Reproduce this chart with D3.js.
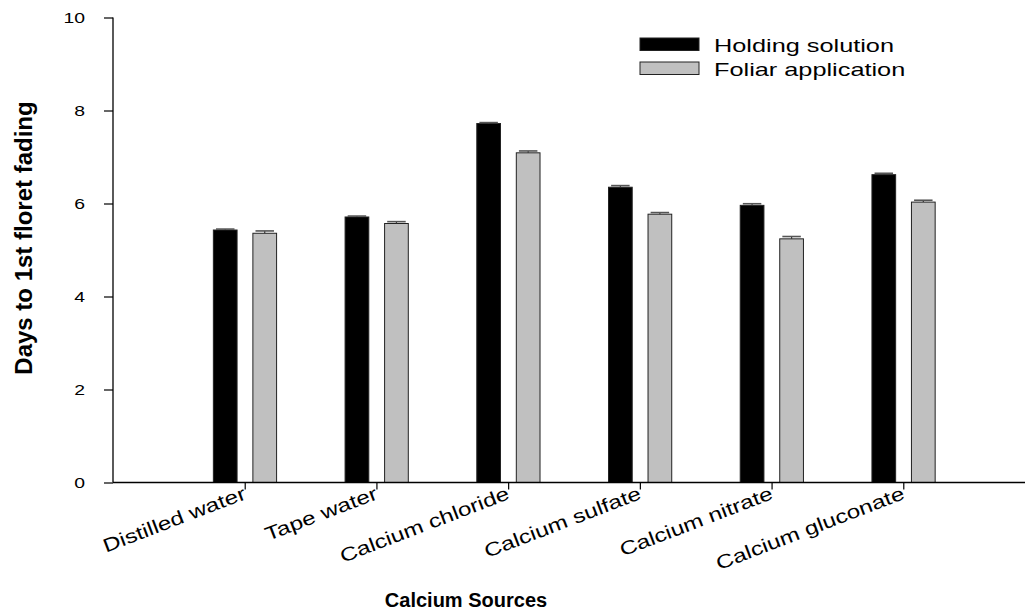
<!DOCTYPE html>
<html>
<head>
<meta charset="utf-8">
<script src="https://cdn.jsdelivr.net/npm/d3@7"></script>
<style>
  html, body { margin: 0; padding: 0; background: #fff; }
  svg { display: block; }
  text { font-family: Arial, "Liberation Sans", sans-serif; fill: #000; }
</style>
</head>
<body>
<svg id="chart" width="1025" height="613"></svg>
<script>
// Calcium sources and mean days to first floret fading (± SE)
const categories = ["Distilled water", "Tape water", "Calcium chloride", "Calcium sulfate", "Calcium nitrate", "Calcium gluconate"];
const seriesNames = ["Holding solution", "Foliar application"];
const holding = [5.43, 5.71, 7.72, 6.35, 5.96, 6.62];
const holdingErr = [0.02, 0.02, 0.02, 0.035, 0.035, 0.03];
const foliar = [5.36, 5.57, 7.09, 5.77, 5.24, 6.03];
const foliarErr = [0.05, 0.04, 0.04, 0.035, 0.05, 0.04];
const yTicks = [0, 2, 4, 6, 8, 10];

const svg = d3.select("#chart");
const fills = ["#000000", "#c0c0c0"];
const FONT = "Arial, 'Liberation Sans', sans-serif";

const x0 = 113, x1 = 1035, yTop = 17.5, yBot = 482.5;
// Group positions on a linear scale: group i sits at i + 1
const x = d3.scaleLinear().domain([0, 7]).range([x0, x1]);
const y = d3.scaleLinear().domain([0, 10]).range([yBot, yTop]);
const unit = x(1) - x(0);
const barW = unit * 0.18;
const offs = [-0.148, 0.152];

const series = [
  { name: seriesNames[0], vals: holding, errs: holdingErr },
  { name: seriesNames[1], vals: foliar, errs: foliarErr }
];

// Bars with upper error bars
series.forEach((s, si) => {
  const g = svg.append("g");
  g.selectAll("rect").data(s.vals).join("rect")
    .attr("x", (d, i) => x(i + 1 + offs[si]) - barW / 2)
    .attr("y", d => y(d))
    .attr("width", barW)
    .attr("height", d => y(0) - y(d))
    .attr("fill", fills[si])
    .attr("stroke", "#222")
    .attr("stroke-width", 1);
  const capW = barW * 0.78;
  s.vals.forEach((v, i) => {
    const cx = x(i + 1 + offs[si]);
    const top = y(v + s.errs[i]);
    g.append("line").attr("x1", cx).attr("x2", cx).attr("y1", y(v)).attr("y2", top)
      .attr("stroke", "#333").attr("stroke-width", 1.2);
    g.append("line").attr("x1", cx - capW / 2).attr("x2", cx + capW / 2).attr("y1", top).attr("y2", top)
      .attr("stroke", "#555").attr("stroke-width", 1.6);
  });
});

// Y axis
const yAxis = d3.axisLeft(y).tickValues(yTicks).tickSize(9).tickFormat(d3.format("d"));
const gy = svg.append("g").attr("transform", `translate(${x0},0)`).call(yAxis);
gy.select(".domain").attr("d", `M0,${yTop}V${yBot}`).attr("stroke", "#000").attr("stroke-width", 1.3);
gy.selectAll(".tick line").attr("stroke", "#000").attr("stroke-width", 1.2);
gy.selectAll(".tick text")
  .attr("font-size", 15.5).attr("font-family", FONT).attr("fill", "#000")
  .attr("x", 0)
  .attr("transform", "translate(-28,0) scale(1.25,1)");

// X axis
const xAxis = d3.axisBottom(x).tickValues(d3.range(1, 7)).tickSize(7).tickFormat(d => categories[d - 1]);
const gx = svg.append("g").attr("transform", `translate(0,${yBot})`).call(xAxis);
gx.select(".domain").attr("d", `M${x0},0H${x1}`).attr("stroke", "#000").attr("stroke-width", 1.3);
gx.selectAll(".tick line").attr("stroke", "#000").attr("stroke-width", 1.2);
gx.selectAll(".tick text")
  .attr("font-size", 19).attr("font-family", FONT).attr("fill", "#000")
  .attr("text-anchor", "end")
  .attr("dy", null).attr("y", 0)
  .attr("transform", "translate(2,16) rotate(-21) scale(1.28,1)");

// Axis titles
svg.append("text")
  .attr("transform", "translate(32,238) rotate(-90)")
  .attr("text-anchor", "middle")
  .attr("font-weight", "bold").attr("font-size", 24)
  .text("Days to 1st floret fading");

svg.append("text")
  .attr("x", 466).attr("y", 607)
  .attr("text-anchor", "middle")
  .attr("font-weight", "bold").attr("font-size", 20)
  .text("Calcium Sources");

// Legend
const legend = svg.append("g").attr("transform", "translate(640,38)");
seriesNames.forEach((n, i) => {
  const row = legend.append("g").attr("transform", `translate(0,${i * 24})`);
  row.append("rect").attr("width", 59).attr("height", 12.5)
    .attr("fill", fills[i]).attr("stroke", "#222").attr("stroke-width", 1);
  row.append("text").attr("transform", "translate(74,13.5) scale(1.43,1)")
    .attr("font-size", 17.7).text(n);
});
</script>
</body>
</html>
